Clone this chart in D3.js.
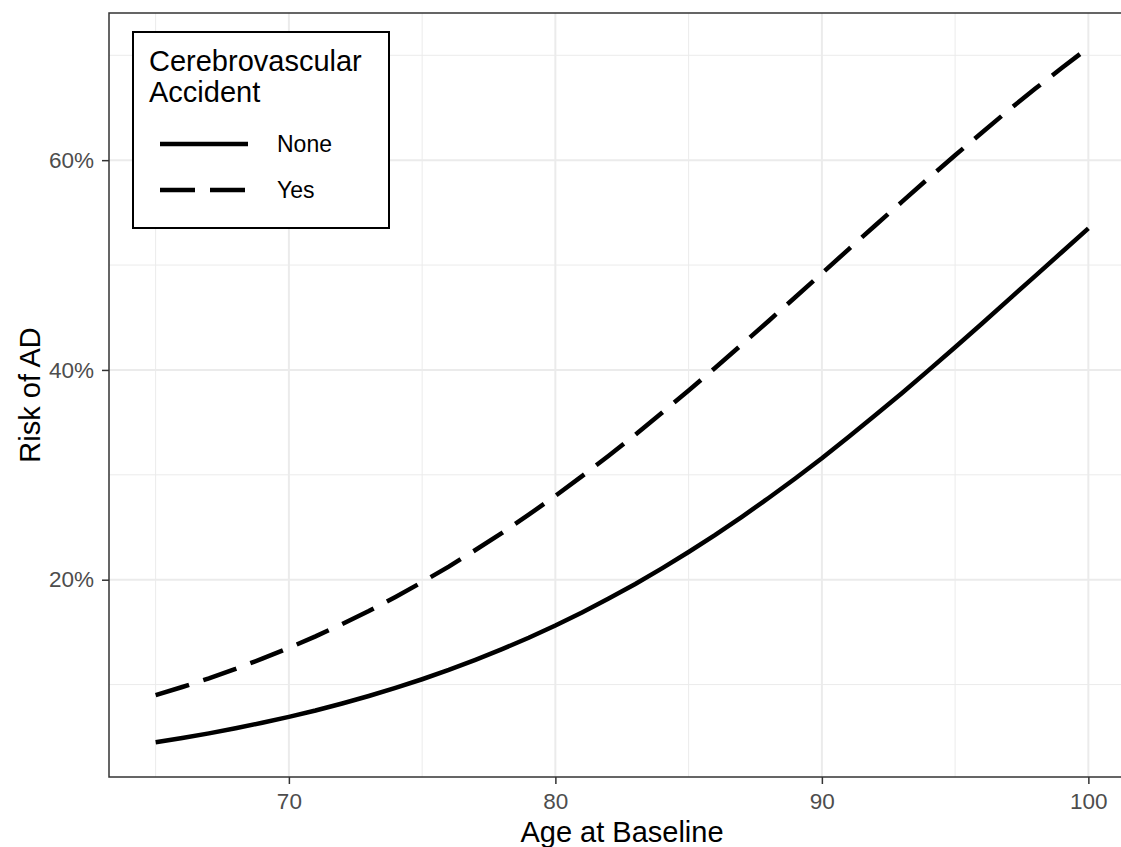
<!DOCTYPE html>
<html>

<head>
  <meta charset="utf8">
  <script src="https://d3js.org/d3.v7.min.js"></script>
  <style>
    body { margin: 0; background: #fff; }
    svg { display: block; font-family: 'Liberation Sans', Arial, sans-serif; }
    .axis text { fill: #4d4d4d; font-size: 22.5px; }
    .axis path { display: none; }
    .axis line { stroke: #333; stroke-width: 1.5; }
  </style>
</head>

<body>
  <svg id="chart" width="1121" height="847"></svg>
  <script>
    // predicted risk of AD by age at baseline
    var ages = [65, 66, 67, 68, 69, 70, 71, 72, 73, 74, 75, 76, 77, 78, 79, 80, 81, 82,
      83, 84, 85, 86, 87, 88, 89, 90, 91, 92, 93, 94, 95, 96, 97, 98, 99, 100];
    var riskNone = [0.045, 0.049, 0.0535, 0.0583, 0.0636, 0.0692, 0.0753, 0.082, 0.0891, 0.0968,
      0.1051, 0.114, 0.1236, 0.1338, 0.1446, 0.1563, 0.1688, 0.182, 0.1959, 0.2108, 0.2264,
      0.2427, 0.26, 0.2779, 0.2965, 0.3158, 0.3361, 0.3567, 0.3777, 0.3996, 0.4216, 0.444,
      0.4668, 0.4895, 0.5122, 0.5349];
    var riskYes = [0.0899, 0.0977, 0.106, 0.115, 0.1247, 0.135, 0.146, 0.1578, 0.1702, 0.1836,
      0.1977, 0.2125, 0.2283, 0.2447, 0.262, 0.2799, 0.2988, 0.3182, 0.3383, 0.3592, 0.3804,
      0.402, 0.4243, 0.4467, 0.4693, 0.492, 0.515, 0.5377, 0.5602, 0.5827, 0.6047, 0.6262,
      0.6475, 0.668, 0.6878, 0.7072];
    var groups = ['None', 'Yes'];
    var xTicks = [70, 80, 90, 100];
    var xMinor = [65, 75, 85, 95];
    var yTicks = [0.2, 0.4, 0.6];
    var yMinor = [0.1, 0.3, 0.5, 0.7];

    var chart = d3.select('#chart');
    var margin = { top: 13, right: -14, bottom: 70, left: 109 };
    var width = 1121 - margin.left - margin.right;
    var height = 847 - margin.top - margin.bottom;

    var series = [
      { key: groups[0], values: riskNone, dash: null },
      { key: groups[1], values: riskYes, dash: '35,15' }
    ];

    var xRange = d3.extent(ages);
    var xPad = (xRange[1] - xRange[0]) * 0.05;
    var x = d3.scaleLinear()
      .domain([xRange[0] - xPad, xRange[1] + xPad])
      .range([0, width]);

    var yMin = d3.min(riskNone), yMax = d3.max(riskYes);
    var yPad = (yMax - yMin) * 0.05;
    var y = d3.scaleLinear()
      .domain([yMin - yPad, yMax + yPad])
      .range([height, 0]);

    var g = chart.append('g')
      .attr('transform', 'translate(' + margin.left + ',' + margin.top + ')');

    // grid
    g.selectAll('.xminor').data(xMinor).enter().append('line')
      .attr('x1', (d) => x(d)).attr('x2', (d) => x(d))
      .attr('y1', 0).attr('y2', height)
      .attr('stroke', '#ebebeb').attr('stroke-width', 1);
    g.selectAll('.yminor').data(yMinor).enter().append('line')
      .attr('y1', (d) => y(d)).attr('y2', (d) => y(d))
      .attr('x1', 0).attr('x2', width)
      .attr('stroke', '#ebebeb').attr('stroke-width', 1);
    g.selectAll('.xmajor').data(xTicks).enter().append('line')
      .attr('x1', (d) => x(d)).attr('x2', (d) => x(d))
      .attr('y1', 0).attr('y2', height)
      .attr('stroke', '#ebebeb').attr('stroke-width', 2);
    g.selectAll('.ymajor').data(yTicks).enter().append('line')
      .attr('y1', (d) => y(d)).attr('y2', (d) => y(d))
      .attr('x1', 0).attr('x2', width)
      .attr('stroke', '#ebebeb').attr('stroke-width', 2);

    // lines
    var line = d3.line()
      .x((d, i) => x(ages[i]))
      .y((d) => y(d));

    g.selectAll('.series').data(series).enter().append('path')
      .attr('fill', 'none')
      .attr('stroke', '#000')
      .attr('stroke-width', 4.5)
      .attr('stroke-dasharray', (d) => d.dash)
      .attr('d', (d) => line(d.values));

    // panel border
    g.append('rect')
      .attr('width', width).attr('height', height)
      .attr('fill', 'none').attr('stroke', '#333').attr('stroke-width', 1.5);

    // axes
    g.append('g')
      .attr('class', 'axis')
      .attr('transform', 'translate(0,' + height + ')')
      .call(d3.axisBottom(x).tickValues(xTicks).tickSize(7).tickPadding(9));

    g.append('g')
      .attr('class', 'axis')
      .call(d3.axisLeft(y).tickValues(yTicks).tickSize(7).tickPadding(8).tickFormat(d3.format('.0%')));

    // axis titles
    chart.append('text')
      .attr('x', margin.left + width / 2)
      .attr('y', 842)
      .attr('text-anchor', 'middle')
      .attr('font-size', 29)
      .text('Age at Baseline');

    chart.append('text')
      .attr('transform', 'translate(40,' + (margin.top + height / 2) + ') rotate(-90)')
      .attr('text-anchor', 'middle')
      .attr('font-size', 29)
      .text('Risk of AD');

    // legend
    var legend = chart.append('g').attr('transform', 'translate(133,32)');
    legend.append('rect')
      .attr('width', 256).attr('height', 196)
      .attr('fill', '#fff').attr('stroke', '#000').attr('stroke-width', 2);
    legend.append('text').attr('x', 16).attr('y', 39).attr('font-size', 29).text('Cerebrovascular');
    legend.append('text').attr('x', 16).attr('y', 70).attr('font-size', 29).text('Accident');

    var item = legend.selectAll('.item').data(series).enter().append('g')
      .attr('transform', (d, i) => 'translate(0,' + (112 + i * 46) + ')');
    item.append('line')
      .attr('x1', 27).attr('x2', 115)
      .attr('stroke', '#000').attr('stroke-width', 4.5)
      .attr('stroke-dasharray', (d) => d.dash);
    item.append('text')
      .attr('x', 144).attr('dy', '0.35em')
      .attr('font-size', 23)
      .text((d) => d.key);
  </script>
</body>

</html>
